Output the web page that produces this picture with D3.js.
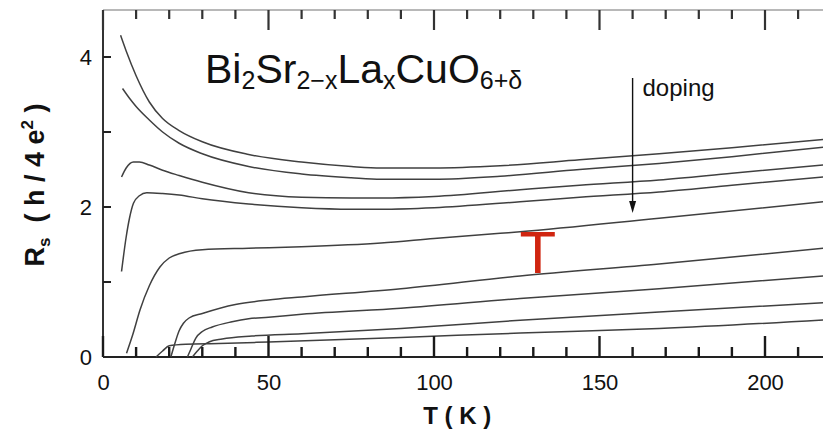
<!DOCTYPE html>
<html>
<head>
<meta charset="utf-8">
<script src="https://cdn.jsdelivr.net/npm/d3@7"></script>
<style>
  body { margin: 0; background: #fff; }
  svg { display: block; font-family: "Liberation Sans", Arial, Helvetica, sans-serif; }
</style>
</head>
<body>
<div id="main"></div>
<script>
// sheet resistance curves, [T (K), Rs (h/4e^2)], top (least doped) to bottom
const curve1 = [[5.3,4.29],[7,4.08],[10,3.75],[14,3.40],[18,3.18],[23,3.02],[30,2.87],[44,2.70],[60,2.60],[75,2.54],[84,2.52],[100,2.52],[120,2.55],[144,2.63],[168,2.71],[190,2.79],[220,2.91]];
const curve2 = [[5.9,3.58],[8,3.45],[10,3.34],[14,3.16],[18,3.00],[23,2.85],[30,2.71],[44,2.54],[60,2.44],[75,2.39],[84,2.37],[100,2.37],[120,2.41],[144,2.50],[168,2.58],[190,2.67],[220,2.81]];
const curve3 = [[5.6,2.40],[7,2.52],[9.2,2.60],[11,2.60],[14,2.56],[18,2.49],[23,2.42],[30,2.33],[44,2.19],[60,2.13],[75,2.12],[84,2.12],[100,2.14],[126,2.23],[144,2.29],[168,2.36],[190,2.45],[220,2.57]];
const curve4 = [[5.6,1.14],[7,1.6],[8,1.85],[9.2,2.05],[11,2.15],[13.2,2.19],[18,2.18],[23,2.16],[30,2.11],[44,2.04],[60,1.99],[75,1.97],[84,1.97],[100,1.99],[126,2.07],[144,2.13],[168,2.20],[190,2.29],[220,2.41]];
const curve5 = [[7.1,0.05],[9,0.3],[11.2,0.63],[14,0.95],[17.2,1.20],[20,1.32],[23.3,1.38],[30,1.43],[44,1.45],[60,1.47],[84,1.52],[100,1.58],[120,1.65],[126,1.67],[168,1.85],[220,2.08]];
const curve6 = [[20.5,0],[21.5,0.15],[23,0.35],[24.3,0.45],[26,0.52],[30,0.58],[40,0.70],[50,0.76],[60,0.80],[90,0.91],[126,1.08],[168,1.24],[220,1.46]];
const curve7 = [[25.5,0],[26.5,0.1],[28,0.25],[30,0.34],[33,0.40],[39,0.47],[44,0.51],[50,0.53],[60,0.57],[90,0.65],[126,0.78],[168,0.91],[220,1.09]];
const curve8 = [[27,0],[28.5,0.08],[30,0.15],[32,0.2],[36,0.24],[45,0.28],[60,0.31],[90,0.38],[126,0.49],[168,0.60],[220,0.73]];
const curve9 = [[16,0],[18,0.08],[20,0.15],[25,0.17],[35,0.18],[50,0.20],[90,0.26],[126,0.32],[168,0.38],[220,0.50]];
const curves = [curve1, curve2, curve3, curve4, curve5, curve6, curve7, curve8, curve9];

const xMajor = [0, 50, 100, 150, 200];
const xMinor = [10, 20, 30, 40, 60, 70, 80, 90, 110, 120, 130, 140, 160, 170, 180, 190, 210, 220];
const yMajor = [0, 2, 4];
const yMinor = [1, 3];

const W = 823, H = 432;
const svg = d3.select('#main').append('svg').attr('width', W).attr('height', H);

const x = d3.scaleLinear().domain([0, 220]).range([103, 831.2]);
const y = d3.scaleLinear().domain([0, 4.627]).range([357, 10]);
const yTop = y(4.627), yBot = y(0), x0 = x(0);

// top frame line (lighter)
svg.append('line')
  .attr('x1', x0).attr('x2', W).attr('y1', yTop).attr('y2', yTop)
  .attr('stroke', '#a0a0a0').attr('stroke-width', 1.5);

// tick labels through d3 axes
svg.append('g').attr('transform', `translate(0,${yBot})`)
  .call(d3.axisBottom(x).tickValues(xMajor).tickSize(0).tickPadding(17).tickFormat(d3.format('d')));
svg.append('g').attr('transform', `translate(${x0},0)`)
  .call(d3.axisLeft(y).tickValues(yMajor).tickSize(0).tickPadding(11).tickFormat(d3.format('d')));
svg.selectAll('.domain').remove();
svg.selectAll('.tick text').attr('font-size', 22).attr('fill', '#111')
  .attr('font-family', '"Liberation Sans", Arial, sans-serif');

// axis lines
svg.append('line').attr('x1', x0).attr('x2', W).attr('y1', yBot).attr('y2', yBot)
  .attr('stroke', '#222').attr('stroke-width', 2);
svg.append('line').attr('x1', x0).attr('x2', x0).attr('y1', yBot).attr('y2', yTop)
  .attr('stroke', '#333').attr('stroke-width', 2);

// curves
const line = d3.line().x(d => x(d[0])).y(d => y(d[1])).curve(d3.curveMonotoneX);
svg.append('g').selectAll('path').data(curves).join('path')
  .attr('d', line)
  .attr('fill', 'none')
  .attr('stroke', '#404040')
  .attr('stroke-width', 1.5);

// inward tick marks as one path per edge
let pb = '', pt = '', pl = '';
xMajor.concat(xMinor).forEach(v => {
  const len = xMajor.includes(v) ? 21 : 10;
  const px = x(v).toFixed(1);
  pb += `M${px},${yBot}V${yBot - len}`;
  pt += `M${px},${yTop}V${yTop + len - 1}`;
});
yMajor.concat(yMinor).forEach(v => {
  pl += `M${x0},${y(v).toFixed(1)}H${x0 + 8}`;
});
svg.append('path').attr('d', pb).attr('fill', 'none').attr('stroke', '#1a1a1a').attr('stroke-width', 2.4);
svg.append('path').attr('d', pt).attr('fill', 'none').attr('stroke', '#333').attr('stroke-width', 2.2);
svg.append('path').attr('d', pl).attr('fill', 'none').attr('stroke', '#222').attr('stroke-width', 2.2);

// axis titles
svg.append('text')
  .attr('x', x(107)).attr('y', 424)
  .attr('text-anchor', 'middle')
  .attr('font-size', 24).attr('font-weight', 'bold').attr('fill', '#111')
  .text('T ( K )');

const yl = svg.append('text')
  .attr('transform', 'translate(44,185) rotate(-90)')
  .attr('text-anchor', 'middle')
  .attr('font-size', 27).attr('font-weight', 'bold').attr('fill', '#111');
yl.append('tspan').text('R');
yl.append('tspan').attr('font-size', 17).attr('dy', 6).text('s');
yl.append('tspan').attr('dy', -6).text('\u00a0\u00a0(\u00a0h\u00a0/\u00a04\u00a0e');
yl.append('tspan').attr('font-size', 17).attr('dy', -11).text('2');
yl.append('tspan').attr('dy', 11).text('\u00a0)');

// formula
const title = svg.append('text')
  .attr('x', 205).attr('y', 83)
  .attr('font-size', 41).attr('fill', '#111');
const parts = [['Bi', 0], ['2', 1], ['Sr', 0], ['2\u2212x', 1], ['La', 0], ['x', 1], ['CuO', 0], ['6+\u03b4', 1]];
let prev = 0;
parts.forEach(([t, sub]) => {
  title.append('tspan')
    .attr('font-size', sub ? 25 : 41)
    .attr('dy', (sub - prev) * 6)
    .text(t);
  prev = sub;
});

// doping arrow
svg.append('line')
  .attr('x1', x(160)).attr('x2', x(160)).attr('y1', y(3.72)).attr('y2', y(2.05))
  .attr('stroke', '#111').attr('stroke-width', 1.4);
svg.append('path')
  .attr('d', `M${x(160) - 3.5},${y(2.08)} L${x(160) + 3.5},${y(2.08)} L${x(160)},${y(1.92)} Z`)
  .attr('fill', '#111');
svg.append('text')
  .attr('x', x(163)).attr('y', y(3.48))
  .attr('font-size', 24).attr('fill', '#111')
  .text('doping');

// red T marker
svg.append('text')
  .attr('x', x(131.4)).attr('y', y(1.12))
  .attr('text-anchor', 'middle')
  .attr('font-size', 60).attr('fill', '#d02510')
  .text('T');
</script>
</body>
</html>
